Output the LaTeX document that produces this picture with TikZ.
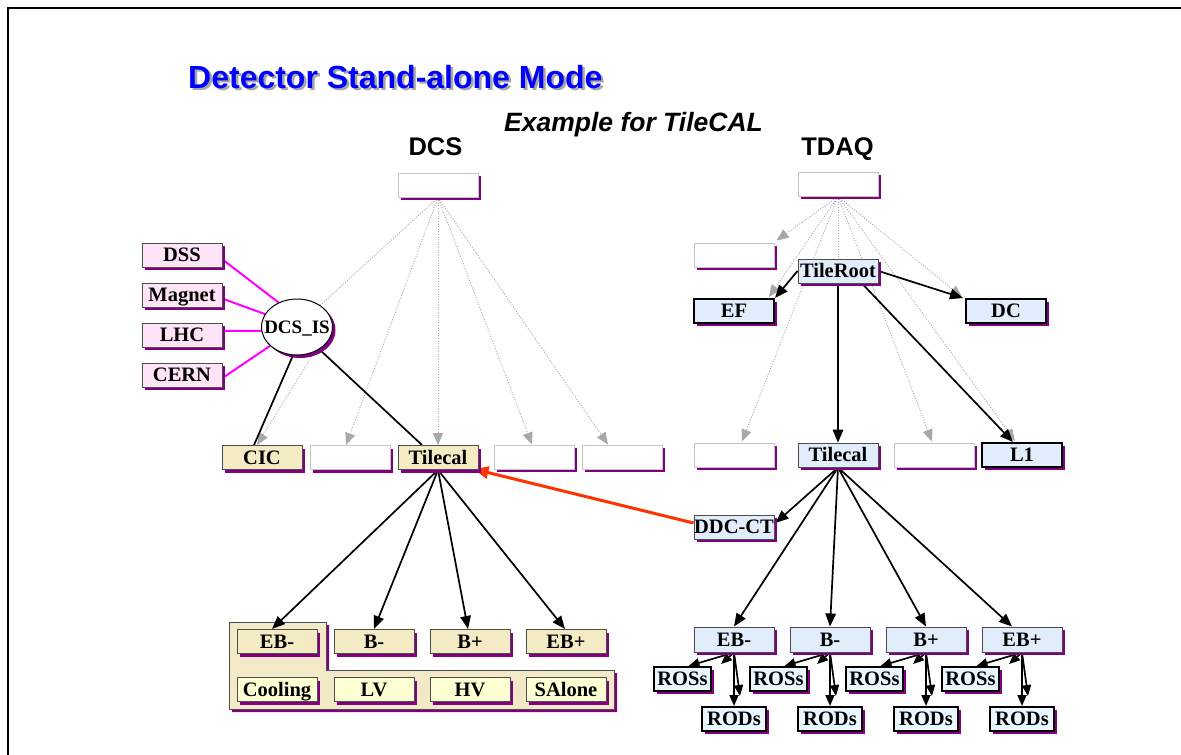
\documentclass[tikz,border=0pt]{standalone}
\usepackage{fontspec}
\setmainfont{Liberation Serif}
\newfontfamily\sansf{Liberation Sans}
\usetikzlibrary{shapes.geometric,shadows,arrows.meta,calc}
\definecolor{shp}{HTML}{800080}
\definecolor{pinkf}{HTML}{FFE4F8}
\definecolor{beigef}{HTML}{F4EAC4}
\definecolor{yelf}{HTML}{FFFFD4}
\definecolor{bluef}{HTML}{E2EDFB}
\definecolor{rosf}{HTML}{EAF7FF}
\definecolor{grpf}{HTML}{F3E9C6}
\definecolor{edgeg}{HTML}{4D4D4D}
\definecolor{blankg}{HTML}{C4C4C4}
\definecolor{dotg}{HTML}{A8A8A8}
\definecolor{redarr}{HTML}{FF3300}
\definecolor{titleb}{HTML}{0000FF}
\definecolor{magln}{HTML}{FF00FF}
\pgfdeclarelayer{bottom}
\pgfdeclarelayer{lines}
\pgfsetlayers{bottom,lines,main}
\begin{document}
\begin{tikzpicture}[x=1pt,y=-1pt,
  bx/.style={rectangle, minimum width=80pt, minimum height=24pt, inner sep=0pt,
    font=\fontsize{20.5}{22}\selectfont\bfseries, text height=13.5pt, text depth=0pt,
    draw=edgeg, line width=1pt,
    drop shadow={shadow xshift=3pt,shadow yshift=-3pt,fill=shp,opacity=1}},
  blankbx/.style={bx, draw=blankg, fill=white},
  pinkbx/.style={bx, fill=pinkf},
  beigebx/.style={bx, fill=beigef},
  yelbx/.style={bx, fill=yelf},
  bluebx/.style={bx, fill=bluef},
  thickbx/.style={bx, fill=bluef, draw=black, line width=2pt},
  rosbx/.style={bx, fill=rosf, draw=black, line width=2pt, minimum height=24pt},
  dotarr/.style={draw=dotg, line width=0.9pt, dash pattern=on 1pt off 1.6pt,
    -{Triangle[length=12pt,width=10pt,fill=dotg,color=dotg]}},
  dotln/.style={draw=dotg, line width=0.9pt, dash pattern=on 1pt off 1.6pt},
  barr/.style={draw=black, line width=1.7pt, -{Triangle[length=13pt,width=10.5pt]}},
  sarr/.style={draw=black, line width=1.7pt, -{Triangle[length=11pt,width=9pt]}},
  bln/.style={draw=black, line width=1.7pt},
  pln/.style={draw=magln, line width=2pt},
  rarr/.style={draw=redarr, line width=3pt, -{Triangle[length=15pt,width=12pt]}}
]
\useasboundingbox (0,0) rectangle (1181,755);
\begin{pgfonlayer}{bottom}
  \fill[white] (0,0) rectangle (1181,755);
  \fill[shp, shift={(3,3)}] (229,622) -- (326,622) -- (326,670) -- (614,670) -- (614,709) -- (229,709) -- cycle;
  \path[fill=grpf, draw=edgeg, line width=1pt] (229,622) -- (326,622) -- (326,670) -- (614,670) -- (614,709) -- (229,709) -- cycle;
\end{pgfonlayer}
\draw[line width=2pt] (8,755) -- (8,8) -- (1181,8);

% titles
\node[anchor=base west, inner sep=0pt, text=gray!70, font=\sansf\bfseries\fontsize{32}{35}\selectfont] at (190.5,90.5) {Detector Stand-alone Mode};
\node[anchor=base west, inner sep=0pt, text=titleb, font=\sansf\bfseries\fontsize{32}{35}\selectfont] (title) at (188,88) {Detector Stand-alone Mode};
\node[anchor=base west, inner sep=0pt, font=\sansf\bfseries\itshape\fontsize{26.5}{29}\selectfont] (example) at (504,131) {Example for TileCAL};
\node[anchor=base, inner sep=0pt, font=\sansf\bfseries\fontsize{25.5}{28}\selectfont] (dcslab) at (435.5,155) {DCS};
\node[anchor=base, inner sep=0pt, font=\sansf\bfseries\fontsize{25.5}{28}\selectfont] (tdaqlab) at (837.5,155) {TDAQ};

% DCS side
\node[blankbx] (dcs) at (438,185) {};
\node[pinkbx] (dss) at (182,255) {DSS};
\node[pinkbx] (mag) at (182,295) {Magnet};
\node[pinkbx] (lhc) at (182,335) {LHC};
\node[pinkbx] (cern) at (182,375) {CERN};
\node[ellipse, draw=black, line width=1pt, fill=white, minimum width=71pt, minimum height=56pt, inner sep=0pt,
  font=\fontsize{19}{21}\selectfont\bfseries, text height=12.5pt, text depth=0pt,
  drop shadow={shadow xshift=3pt,shadow yshift=-3pt,fill=shp,opacity=1}] (dcsis) at (297,327) {\makebox[0pt]{DCS\_IS}};
\node[beigebx] (cic) at (262,457.5) {CIC};
\node[blankbx] (bd1) at (350,457.5) {};
\node[beigebx] (tild) at (438,457.5) {Tilecal};
\node[blankbx] (bd2) at (534,457) {};
\node[blankbx] (bd3) at (622,457) {};

\node[beigebx] (ebmd) at (277,641.5) {EB-};
\node[beigebx] (bmd) at (374,641.5) {B-};
\node[beigebx] (bpd) at (470,641.5) {B+};
\node[beigebx] (ebpd) at (566,641.5) {EB+};
\node[yelbx] (cool) at (277,689.5) {Cooling};
\node[yelbx] (lv) at (374,689.5) {LV};
\node[yelbx] (hv) at (470,689.5) {HV};
\node[yelbx] (salone) at (566,689.5) {SAlone};

% TDAQ side
\node[blankbx] (tdaq) at (838,184) {};
\node[blankbx] (tbl) at (734,255) {};
\node[bluebx] (troot) at (838,271) {TileRoot};
\node[thickbx] (ef) at (734,311) {EF};
\node[thickbx] (dc) at (1006,311) {DC};
\node[blankbx] (bt1) at (734,455) {};
\node[bluebx] (tilt) at (838,455) {Tilecal};
\node[blankbx] (bt2) at (934,455) {};
\node[thickbx] (l1) at (1022,455) {L1};
\node[bluebx] (ddc) at (734,527) {DDC-CT};

\foreach \i/\lab in {1/EB-,2/B-,3/B+,4/EB+}{
  \pgfmathsetmacro\cx{638+96*\i}
  \pgfmathsetmacro\rx{586.5+96*\i}
  \node[bluebx, minimum height=25pt] (t\i) at (\cx,639.5) {\lab};
  \node[rosbx, minimum width=57pt] (ros\i) at (\rx,679) {ROSs};
  \node[rosbx, minimum width=64pt] (rod\i) at (\cx,719) {RODs};
}

% connectors
\begin{pgfonlayer}{lines}
  % DCS dotted
  \draw[dotln] (dcs.south) -- (dcsis.43);
  \draw[dotarr] (dcsis.-55) -- ($(cic.north)+(-5,0)$);
  \draw[dotarr] (dcs.south) -- ($(bd1.north)+(-4,0)$);
  \draw[dotarr] (dcs.south) -- (tild.north);
  \draw[dotarr] (dcs.south) -- ($(bd2.north)+(-2,0)$);
  \draw[dotarr] (dcs.south) -- ($(bd3.north)+(-14,0)$);
  % pink
  \draw[pln] ($(dss.east)+(2,6)$) -- (dcsis.127);
  \draw[pln] ($(mag.east)+(1,4)$) -- (dcsis.158);
  \draw[pln] ($(lhc.east)+(0,-4)$) -- (dcsis.186);
  \draw[pln] ($(cern.east)+(0,3)$) -- (dcsis.215);
  % DCS black
  \draw[bln] (dcsis.262) -- ($(cic.north)+(-8,0)$);
  \draw[bln] (dcsis.-45) -- ($(tild.north)+(-16,0)$);
  \draw[barr] (tild.south) -- ($(ebmd.north)+(-5,0)$);
  \draw[barr] (tild.south) -- (bmd.north);
  \draw[barr] (tild.south) -- ($(bpd.north)+(-2,0)$);
  \draw[barr] (tild.south) -- ($(ebpd.north)+(-1,0)$);
  % TDAQ dotted
  \draw[dotarr] (tdaq.south) -- ($(tbl.north east)+(2,-2)$);
  \draw[dotarr] (tdaq.south) -- ($(ef.north east)+(-6,-1)$);
  \draw[dotarr] (tdaq.south) -- ($(bt1.north)+(8,-1)$);
  \draw[dotarr] (tdaq.south) -- (tilt.north);
  \draw[dotarr] (tdaq.south) -- ($(bt2.north)+(-2,-1)$);
  \draw[dotarr] (tdaq.south) -- ($(dc.north west)+(-3,-1)$);
  \draw[dotarr] (tdaq.south) -- ($(l1.north)+(-7,-1)$);
  % TDAQ black
  \draw[barr] (troot.west) -- (ef.north east);
  \draw[barr] (troot.east) -- ($(dc.north west)+(-2,0)$);
  \draw[barr] (troot.south) -- (tilt.north);
  \draw[barr] ($(troot.south)+(24,0)$) -- ($(l1.north)+(-9,0)$);
  \draw[barr] (tilt.south) -- ($(ddc.east)+(1,-4)$);
  \draw[barr] (tilt.south) -- (t1.north);
  \draw[barr] (tilt.south) -- (t2.north);
  \draw[barr] (tilt.south) -- (t3.north);
  \draw[barr] (tilt.south) -- ($(t4.north)+(-10,0)$);
  \foreach \i in {1,2,3,4}{
    \draw[sarr] (t\i.south) -- ($(ros\i.north)+(6,0)$);
    \draw[sarr] (t\i.south) -- ($(ros\i.north east)+(9,-2)$);
    \draw[sarr] (t\i.south) -- (rod\i.north);
    \draw[sarr] (t\i.south) -- ($(rod\i.north)+(6,-10)$);
  }
  % red
  \draw[rarr] ($(ddc.west)+(0,-4)$) -- ($(tild.south east)+(-5,-1)$);
\end{pgfonlayer}
\end{tikzpicture}
\end{document}
